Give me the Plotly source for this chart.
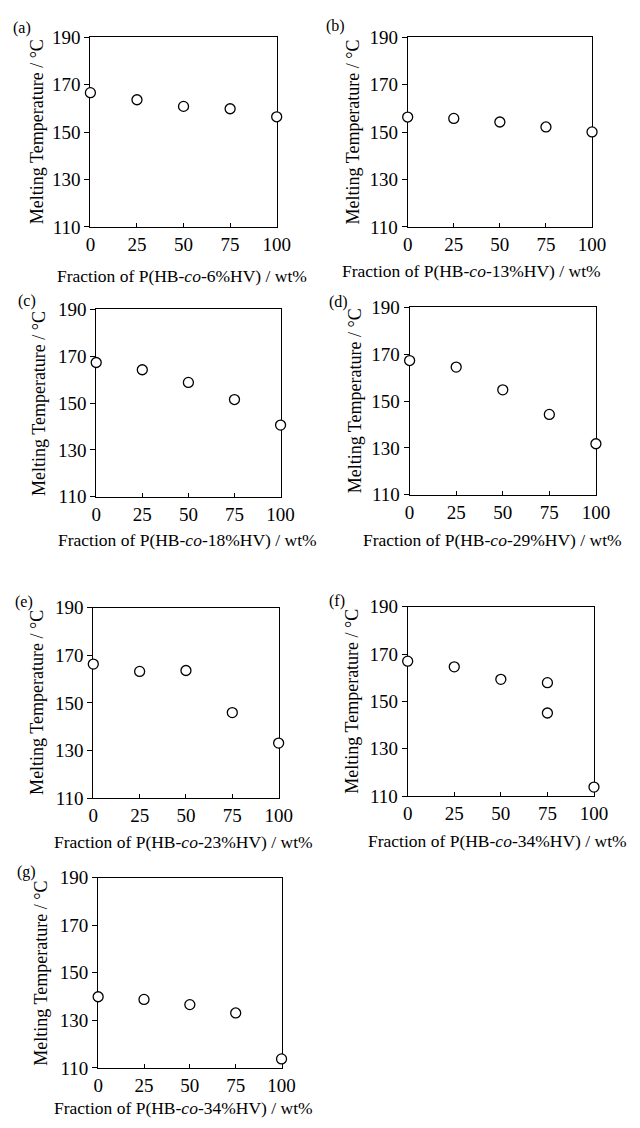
import plotly.graph_objects as go

# ---- data ----
x_frac = [0, 25, 50, 75, 100]
x_frac_f = [0, 25, 50, 75, 75, 100]
tm_a = [166.7, 163.7, 160.9, 159.9, 156.5]
tm_b = [156.4, 155.8, 154.3, 152.2, 150.1]
tm_c = [167.3, 164.2, 158.8, 151.5, 140.6]
tm_d = [167.3, 164.5, 154.8, 144.3, 131.8]
tm_e = [166.3, 163.2, 163.6, 145.9, 133.1]
tm_f = [167.0, 164.6, 159.3, 157.9, 145.1, 113.8]
tm_g = [139.9, 138.8, 136.6, 133.1, 113.8]
panel_letters = ["(a)", "(b)", "(c)", "(d)", "(e)", "(f)", "(g)"]
hv_content = ["6", "13", "18", "29", "23", "34", "34"]
x_ticks = [0, 25, 50, 75, 100]
y_ticks = [110, 130, 150, 170, 190]
y_title = "Melting Temperature / °C"

series_x = [x_frac, x_frac, x_frac, x_frac, x_frac, x_frac_f, x_frac]
series_y = [tm_a, tm_b, tm_c, tm_d, tm_e, tm_f, tm_g]

# ---- layout (pixel boxes: left, right, top, bottom) ----
W, H = 640, 1128
boxes = [
    (88, 280, 28, 221),
    (415, 605, 28, 221),
    (94, 284, 305, 496),
    (417, 609, 303, 494),
    (91, 282, 609, 803),
    (415, 607, 608, 801),
    (96, 285, 884, 1078),
]
# panel label centers, y-title centers x, x-title centers (x, y)
label_pos = [(18, 18), (341, 16), (23, 297), (344, 298), (20, 603), (342, 602), (22, 878)]
ytitle_x = [33, 359, 35, 361, 33, 358, 37]
xtitle_pos = [(182, 271), (481, 266), (188, 540), (502, 540), (184, 848), (508, 847), (184, 1119)]

FONT = "Liberation Serif"
fig = go.Figure()
annotations = []
layout_axes = {}

for i in range(7):
    l, r, t, b = boxes[i]
    xa = "x" if i == 0 else f"x{i+1}"
    ya = "y" if i == 0 else f"y{i+1}"
    fig.add_trace(go.Scatter(
        x=series_x[i], y=series_y[i], xaxis=xa, yaxis=ya, mode="markers",
        marker=dict(symbol="circle", size=10, color="white",
                    line=dict(color="black", width=1.3)),
        cliponaxis=False, showlegend=False,
    ))
    xkey = "xaxis" if i == 0 else f"xaxis{i+1}"
    ykey = "yaxis" if i == 0 else f"yaxis{i+1}"
    layout_axes[xkey] = dict(
        domain=[l / W, r / W], anchor=ya, range=[0, 100],
        tickvals=x_ticks, ticks="inside", ticklen=4, tickwidth=1, tickcolor="black",
        showline=True, mirror=True, linecolor="black", linewidth=1,
        showgrid=False, zeroline=False, layer="below traces",
        tickfont=dict(family=FONT, size=19, color="black"),
    )
    layout_axes[ykey] = dict(
        domain=[1 - b / H, 1 - t / H], anchor=xa, range=[110, 190],
        tickvals=y_ticks, ticks="outside", ticklen=5, tickwidth=1, tickcolor="black",
        showline=True, mirror=True, linecolor="black", linewidth=1,
        showgrid=False, zeroline=False, layer="below traces",
        tickfont=dict(family=FONT, size=19, color="black"),
    )
    cy = (t + b) / 2
    annotations.append(dict(
        text=y_title, x=ytitle_x[i] / W, y=1 - cy / H, xref="paper", yref="paper",
        textangle=-90, showarrow=False, xanchor="center", yanchor="middle",
        font=dict(family=FONT, size=18, color="black"),
    ))
    xt, yt = xtitle_pos[i]
    annotations.append(dict(
        text=f"Fraction of P(HB-<i>co</i>-{hv_content[i]}%HV) / wt%",
        x=xt / W, y=1 - yt / H, xref="paper", yref="paper",
        showarrow=False, xanchor="center", yanchor="middle",
        font=dict(family=FONT, size=17.5, color="black"),
    ))
    lx, ly = label_pos[i]
    annotations.append(dict(
        text=panel_letters[i], x=lx / W, y=1 - ly / H, xref="paper", yref="paper",
        showarrow=False, xanchor="center", yanchor="middle",
        font=dict(family=FONT, size=16, color="black"),
    ))

fig.update_layout(
    width=W, height=H, margin=dict(l=0, r=0, t=0, b=0),
    paper_bgcolor="white", plot_bgcolor="white",
    annotations=annotations, **layout_axes,
)

fig.write_html("out.html")
